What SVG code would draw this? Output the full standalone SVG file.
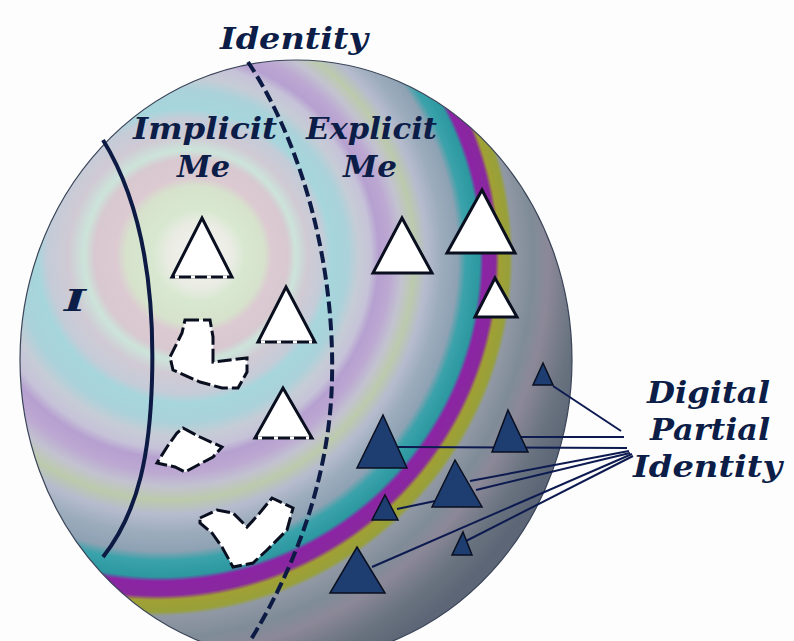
<svg xmlns="http://www.w3.org/2000/svg" width="794" height="641" viewBox="0 0 794 641">
<defs>
<radialGradient id="rings" gradientUnits="userSpaceOnUse" cx="140" cy="258" r="460" fx="205" fy="255">
<stop offset="0" stop-color="#f4f4f0"/>
<stop offset="0.07" stop-color="#eaece4"/>
<stop offset="0.1" stop-color="#d8e8d0"/>
<stop offset="0.15" stop-color="#d6e2cc"/>
<stop offset="0.17" stop-color="#dccad2"/>
<stop offset="0.21" stop-color="#d8c8d0"/>
<stop offset="0.23" stop-color="#cce4da"/>
<stop offset="0.26" stop-color="#d0cad4"/>
<stop offset="0.3" stop-color="#c4ccd8"/>
<stop offset="0.32" stop-color="#a6d6dc"/>
<stop offset="0.36" stop-color="#aad2da"/>
<stop offset="0.39" stop-color="#c6ccd6"/>
<stop offset="0.42" stop-color="#c6c2d8"/>
<stop offset="0.44" stop-color="#b6a0d0"/>
<stop offset="0.47" stop-color="#bca8d2"/>
<stop offset="0.5" stop-color="#c2c2d0"/>
<stop offset="0.53" stop-color="#bccaac"/>
<stop offset="0.56" stop-color="#b6bcce"/>
<stop offset="0.6" stop-color="#9cacbc"/>
<stop offset="0.64" stop-color="#8ea2b4"/>
<stop offset="0.66" stop-color="#3aa2aa"/>
<stop offset="0.695" stop-color="#2c98a0"/>
<stop offset="0.705" stop-color="#8c24a4"/>
<stop offset="0.735" stop-color="#88289e"/>
<stop offset="0.745" stop-color="#a0a034"/>
<stop offset="0.77" stop-color="#98a03a"/>
<stop offset="0.78" stop-color="#9098a4"/>
<stop offset="0.83" stop-color="#7f8c98"/>
<stop offset="0.87" stop-color="#8c8898"/>
<stop offset="0.94" stop-color="#6a7480"/>
<stop offset="1" stop-color="#5c6676"/>
</radialGradient>
<style>
.lbl{font-family:"DejaVu Serif","Liberation Serif",serif;font-weight:bold;font-style:italic;font-size:30px;fill:#0c1d48}
.wt{fill:#ffffff;stroke:#0a0f20;stroke-width:3;stroke-linejoin:miter}
.dt{fill:#1e3d70;stroke:#0a0f20;stroke-width:1.5}
.blob{fill:#ffffff;stroke:#0a0f20;stroke-width:3;stroke-dasharray:14 4}
.dash{stroke:#ffffff;stroke-width:3.2;stroke-dasharray:4 12}
.conn{stroke:#0c1a50;stroke-width:2;fill:none}
</style>
</defs>
<rect width="794" height="641" fill="#fdfdfd"/>
<g id="sphere">
<ellipse cx="296" cy="360" rx="276" ry="300" fill="url(#rings)" stroke="#3a4458" stroke-width="1.2"/>
</g>
<g id="boundaries" fill="none" stroke="#0c1a44" stroke-width="4">
<path d="M103,140 C140,200 155,280 152,380 C150,450 140,510 103,557"/>
<path d="M248,62 C300,140 335,260 332,380 C330,470 300,560 250,641" stroke-dasharray="12 5"/>
</g>
<g id="connectors">
<line class="conn" x1="553" y1="386" x2="621" y2="431"/>
<line class="conn" x1="520" y1="437" x2="624" y2="437"/>
<line class="conn" x1="398" y1="447" x2="627" y2="448"/>
<line class="conn" x1="470" y1="481" x2="629" y2="451"/>
<line class="conn" x1="476" y1="490" x2="630" y2="453"/>
<line class="conn" x1="397" y1="509" x2="440" y2="500"/>
<line class="conn" x1="372" y1="567" x2="632" y2="454"/>
<line class="conn" x1="466" y1="541" x2="633" y2="456"/>
</g>
<g id="implicit-triangles">
<polygon class="wt" points="202,218 232,277 172,277"/>
<line class="dash" x1="175" y1="277" x2="229" y2="277"/>
<polygon class="wt" points="286,287 315,342 258,342"/>
<line class="dash" x1="261" y1="342" x2="312" y2="342"/>
<polygon class="wt" points="283,388 312,438 255,438"/>
<line class="dash" x1="258" y1="438" x2="309" y2="438"/>
</g>
<g id="implicit-blobs">
<polygon class="blob" points="185,320 210,320 213,337 213,362 230,360 247,358 247,372 238,388 222,388 200,382 173,370 170,357 182,333"/>
<polygon class="blob" points="183,428 200,437 222,447 213,457 198,465 185,472 175,467 157,463 167,447 177,433"/>
<polygon class="blob" points="200,518 217,510 233,513 247,527 258,515 272,498 293,508 287,530 267,550 253,563 233,567 222,547 212,533 200,523"/>
</g>
<g id="explicit-triangles">
<polygon class="wt" points="402,218 432,273 373,273"/>
<polygon class="wt" points="482,190 515,253 447,253"/>
<polygon class="wt" points="495,278 517,317 475,317"/>
</g>
<g id="digital-partial-identities">
<polygon class="dt" points="543,363 553,385 533,385"/>
<polygon class="dt" points="383,415 407,468 357,468"/>
<polygon class="dt" points="508,410 528,452 492,452"/>
<polygon class="dt" points="455,460 482,507 432,507"/>
<polygon class="dt" points="385,495 398,520 372,520"/>
<polygon class="dt" points="463,532 472,555 452,555"/>
<polygon class="dt" points="357,547 385,593 330,593"/>
</g>
<g id="labels">
<text class="lbl" x="220" y="49" textLength="148" lengthAdjust="spacingAndGlyphs">Identity</text>
<text class="lbl" x="133" y="139" textLength="144" lengthAdjust="spacingAndGlyphs">Implicit</text>
<text class="lbl" x="177" y="177" textLength="53" lengthAdjust="spacingAndGlyphs">Me</text>
<text class="lbl" x="306" y="139" textLength="131" lengthAdjust="spacingAndGlyphs">Explicit</text>
<text class="lbl" x="343" y="177" textLength="54" lengthAdjust="spacingAndGlyphs">Me</text>
<text class="lbl" x="64" y="311" textLength="22" lengthAdjust="spacingAndGlyphs">I</text>
<text class="lbl" x="647" y="403" textLength="123" lengthAdjust="spacingAndGlyphs">Digital</text>
<text class="lbl" x="650" y="440" textLength="120" lengthAdjust="spacingAndGlyphs">Partial</text>
<text class="lbl" x="633" y="477" textLength="149" lengthAdjust="spacingAndGlyphs">Identity</text>
</g>
</svg>
